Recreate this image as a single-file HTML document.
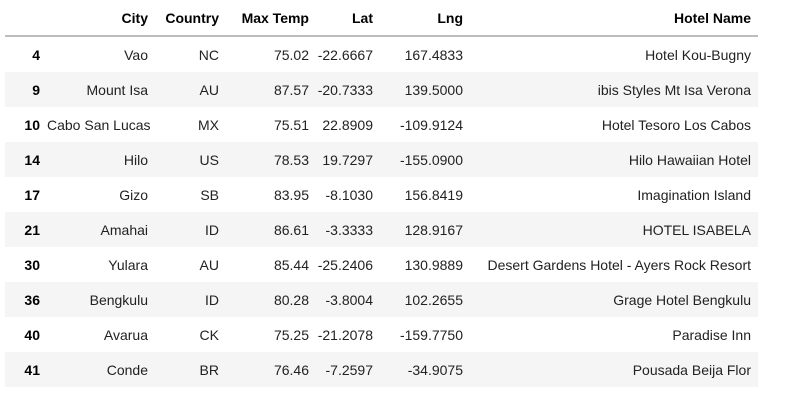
<!DOCTYPE html>
<html><head><meta charset="utf-8"><style>
body{margin:0;background:#fff;width:791px;height:402px;overflow:hidden;font-family:"Liberation Sans",sans-serif;font-size:14px;color:#222}
table{position:absolute;left:5px;top:0;width:753px;border-collapse:collapse;table-layout:fixed}
th,td{text-align:right;padding:0 7px 0 0;height:35px;white-space:nowrap;overflow:visible}
thead th{height:35px;border-bottom:2px solid #bdbdbd;font-weight:bold;color:#000}
tbody tr:nth-child(even){background:#f5f5f5}
tbody th{font-weight:bold;color:#000}
</style></head><body>
<table>
<colgroup><col style="width:42px"><col style="width:108px"><col style="width:71px"><col style="width:90px"><col style="width:64px"><col style="width:90px"><col style="width:288px"></colgroup>
<thead><tr><th></th><th>City</th><th>Country</th><th>Max Temp</th><th>Lat</th><th>Lng</th><th>Hotel Name</th></tr></thead>
<tbody>
<tr><th>4</th><td>Vao</td><td>NC</td><td>75.02</td><td>-22.6667</td><td>167.4833</td><td>Hotel Kou-Bugny</td></tr>
<tr><th>9</th><td>Mount Isa</td><td>AU</td><td>87.57</td><td>-20.7333</td><td>139.5000</td><td>ibis Styles Mt Isa Verona</td></tr>
<tr><th>10</th><td>Cabo San Lucas</td><td>MX</td><td>75.51</td><td>22.8909</td><td>-109.9124</td><td>Hotel Tesoro Los Cabos</td></tr>
<tr><th>14</th><td>Hilo</td><td>US</td><td>78.53</td><td>19.7297</td><td>-155.0900</td><td>Hilo Hawaiian Hotel</td></tr>
<tr><th>17</th><td>Gizo</td><td>SB</td><td>83.95</td><td>-8.1030</td><td>156.8419</td><td>Imagination Island</td></tr>
<tr><th>21</th><td>Amahai</td><td>ID</td><td>86.61</td><td>-3.3333</td><td>128.9167</td><td>HOTEL ISABELA</td></tr>
<tr><th>30</th><td>Yulara</td><td>AU</td><td>85.44</td><td>-25.2406</td><td>130.9889</td><td>Desert Gardens Hotel - Ayers Rock Resort</td></tr>
<tr><th>36</th><td>Bengkulu</td><td>ID</td><td>80.28</td><td>-3.8004</td><td>102.2655</td><td>Grage Hotel Bengkulu</td></tr>
<tr><th>40</th><td>Avarua</td><td>CK</td><td>75.25</td><td>-21.2078</td><td>-159.7750</td><td>Paradise Inn</td></tr>
<tr><th>41</th><td>Conde</td><td>BR</td><td>76.46</td><td>-7.2597</td><td>-34.9075</td><td>Pousada Beija Flor</td></tr>
</tbody></table>
</body></html>
